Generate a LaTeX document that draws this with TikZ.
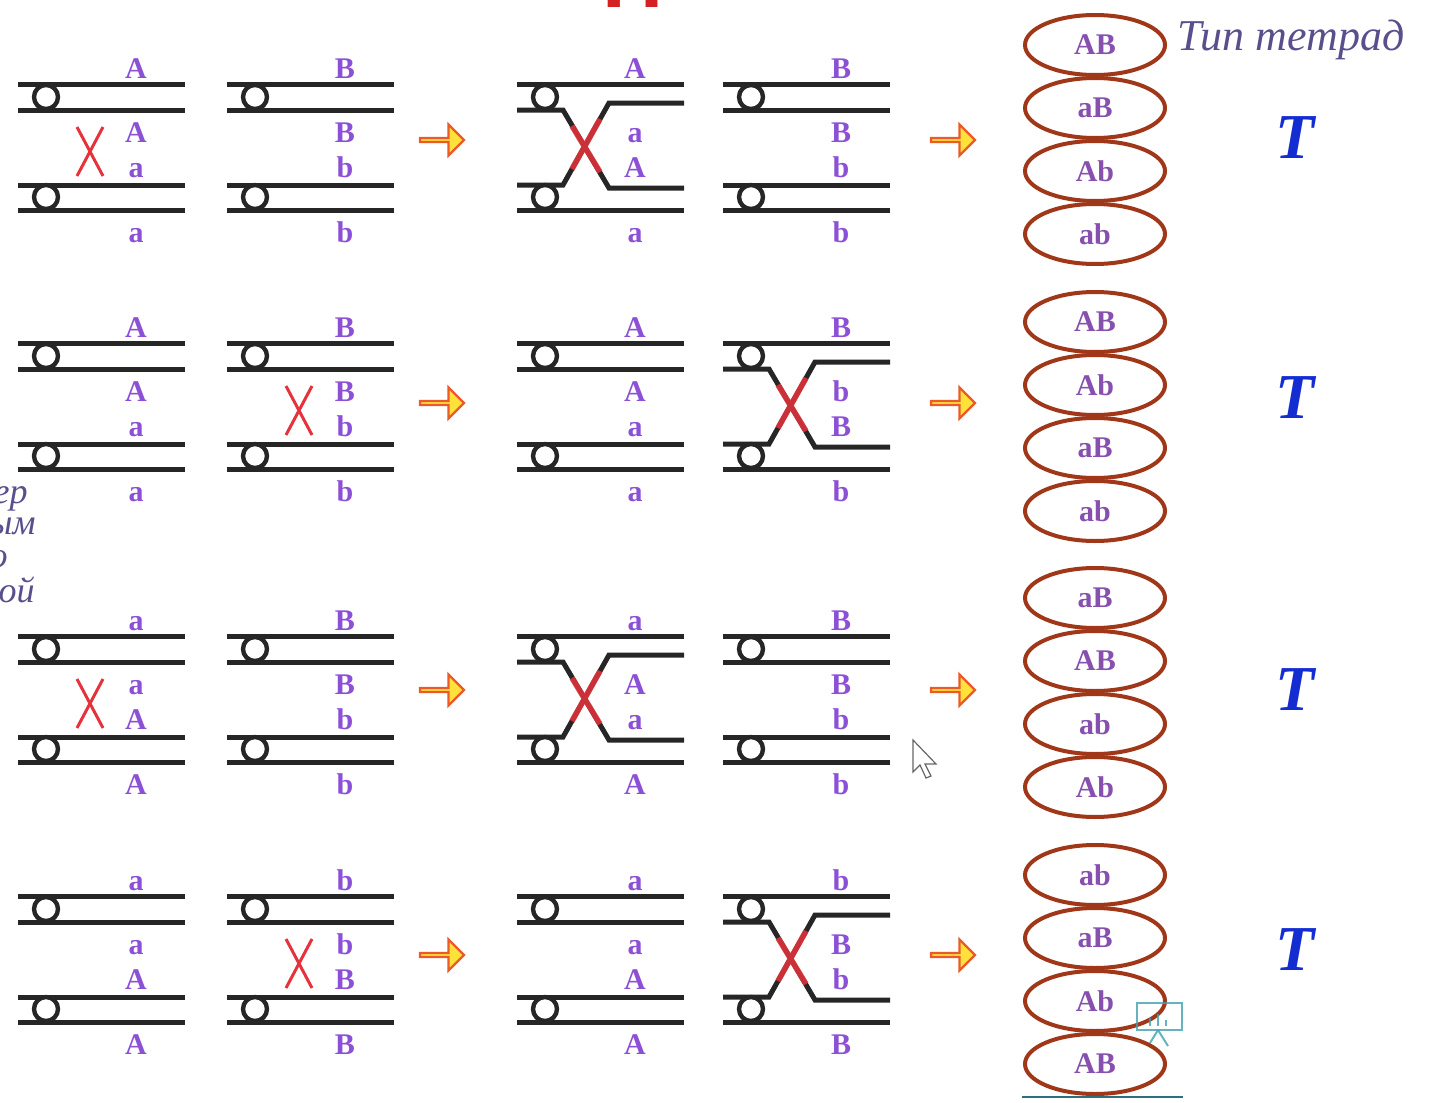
\documentclass[tikz,border=0pt]{standalone}
\usepackage{fontspec}
\setmainfont{Liberation Serif}
\newfontfamily\headfont{Liberation Sans}
\usetikzlibrary{shapes.geometric,shapes.arrows,positioning}

\definecolor{genecol}{RGB}{140,80,215}
\definecolor{tetcol}{RGB}{135,80,175}
\definecolor{ringcol}{RGB}{160,55,25}
\definecolor{xred}{RGB}{230,50,60}
\definecolor{typecol}{RGB}{90,78,140}
\definecolor{tblue}{RGB}{20,45,210}
\definecolor{arrowline}{RGB}{235,90,40}
\definecolor{arrowfill}{RGB}{255,225,60}
\definecolor{titlered}{RGB}{212,32,32}
\definecolor{icontint}{RGB}{64,160,176}

\tikzset{
  chrom/.style     = {line width=2.5pt, black!85},
  centro/.style    = {line width=2.2pt, black!85, fill=white},
  gene/.style      = {text=genecol, font=\fontsize{15}{17}\selectfont\bfseries, anchor=base, inner sep=0pt},
  crossmark/.style = {xred, line width=1.5pt},
  chiasm/.style    = {xred, line width=2.8pt, opacity=0.85},
  fatarrow/.style  = {single arrow, draw=arrowline, fill=arrowfill, line width=1.2pt,
                      minimum height=22pt, minimum width=15.5pt, single arrow head extend=4pt, inner sep=0pt},
  tetrad/.style    = {ellipse, draw=ringcol, line width=2pt, fill=white, minimum width=70pt,
                      minimum height=30pt, inner sep=0pt, text=tetcol, font=\fontsize{15}{17}\selectfont\bfseries},
  ttype/.style     = {text=tblue, font=\fontsize{32}{34}\selectfont\bfseries\itshape},
  typelabel/.style = {text=typecol, inner sep=0pt, font=\fontsize{22}{24}\selectfont\itshape},
  fragment/.style  = {typelabel, anchor=base east, font=\fontsize{18}{20}\selectfont\itshape},
  cursor/.style    = {draw=black!60, fill=white, line width=0.6pt},
  iconline/.style  = {draw=icontint, line width=1pt, opacity=0.8},
  footrule/.style  = {draw=icontint!70!black, line width=0.8pt},
}

% pair of homologues, no exchange
\newcommand{\homolog}[6]{%
  \begin{scope}[shift={(#2)}]
    \draw[chrom] (0,84) -- (167,84);
    \draw[chrom] (0,110) -- (167,110);
    \draw[chrom] (0,185) -- (167,185);
    \draw[chrom] (0,210) -- (167,210);
    \draw[centro] (28,97) circle (6pt);
    \draw[centro] (28,197) circle (6pt);
    \node[gene] (#1-1) at (118,78)  {#3};
    \node[gene] (#1-2) at (118,142) {#4};
    \node[gene] (#1-3) at (118,177) {#5};
    \node[gene] (#1-4) at (118,242) {#6};
  \end{scope}}

% pair of homologues after crossing over
\newcommand{\chiasma}[6]{%
  \begin{scope}[shift={(#2)}]
    \draw[chrom] (0,84) -- (167,84);
    \draw[chrom] (0,110) -- (46,110) -- (92,188) -- (167,188);
    \draw[chrom] (0,185) -- (46,185) -- (92,103) -- (167,103);
    \draw[chrom] (0,210) -- (167,210);
    \draw[chiasm] (55,126) -- (83,172) (55,169) -- (83,119);
    \draw[centro] (28,97) circle (6pt);
    \draw[centro] (28,197) circle (6pt);
    \node[gene] (#1-1) at (118,78)  {#3};
    \node[gene] (#1-2) at (118,142) {#4};
    \node[gene] (#1-3) at (118,177) {#5};
    \node[gene] (#1-4) at (118,242) {#6};
  \end{scope}}

\newcommand{\xmark}[1]{%
  \begin{scope}[shift={(#1)}]
    \draw[crossmark] (59,127) -- (85,176) (85,127) -- (59,176);
  \end{scope}}

\begin{document}
\begin{tikzpicture}[x=0.5pt, y=-0.5pt, node distance=31.5pt]
\useasboundingbox (0,0) rectangle (1432,1103);

\node[anchor=base west, inner sep=0pt, text=titlered, font=\headfont\bfseries\fontsize{42.5}{44}\selectfont] (heading) at (602,8) {П};

\homolog{r1g1}{18,0}{A}{A}{a}{a}
\xmark{18,0}
\homolog{r1g2}{227,0}{B}{B}{b}{b}
\chiasma{r1g3}{517,0}{A}{a}{A}{a}
\homolog{r1g4}{723,0}{B}{B}{b}{b}
\node[fatarrow] (r1a1) at (441,140) {};
\node[fatarrow] (r1a2) at (952,140) {};

\homolog{r2g1}{18,259}{A}{A}{a}{a}
\homolog{r2g2}{227,259}{B}{B}{b}{b}
\xmark{227,259}
\homolog{r2g3}{517,259}{A}{A}{a}{a}
\chiasma{r2g4}{723,259}{B}{b}{B}{b}
\node[fatarrow] (r2a1) at (441,403) {};
\node[fatarrow] (r2a2) at (952,403) {};

\homolog{r3g1}{18,552}{a}{a}{A}{A}
\xmark{18,552}
\homolog{r3g2}{227,552}{B}{B}{b}{b}
\chiasma{r3g3}{517,552}{a}{A}{a}{A}
\homolog{r3g4}{723,552}{B}{B}{b}{b}
\node[fatarrow] (r3a1) at (441,690) {};
\node[fatarrow] (r3a2) at (952,690) {};

\homolog{r4g1}{18,812}{a}{a}{A}{A}
\homolog{r4g2}{227,812}{b}{b}{B}{B}
\xmark{227,812}
\homolog{r4g3}{517,812}{a}{a}{A}{A}
\chiasma{r4g4}{723,812}{b}{B}{b}{B}
\node[fatarrow] (r4a1) at (441,955) {};
\node[fatarrow] (r4a2) at (952,955) {};

\node[tetrad]                (r1t1) at (1095,45) {AB};
\node[tetrad, below of=r1t1] (r1t2) {aB};
\node[tetrad, below of=r1t2] (r1t3) {Ab};
\node[tetrad, below of=r1t3] (r1t4) {ab};

\node[tetrad]                (r2t1) at (1095,322) {AB};
\node[tetrad, below of=r2t1] (r2t2) {Ab};
\node[tetrad, below of=r2t2] (r2t3) {aB};
\node[tetrad, below of=r2t3] (r2t4) {ab};

\node[tetrad]                (r3t1) at (1095,598) {aB};
\node[tetrad, below of=r3t1] (r3t2) {AB};
\node[tetrad, below of=r3t2] (r3t3) {ab};
\node[tetrad, below of=r3t3] (r3t4) {Ab};

\node[tetrad]                (r4t1) at (1095,875) {ab};
\node[tetrad, below of=r4t1] (r4t2) {aB};
\node[tetrad, below of=r4t2] (r4t3) {Ab};
\node[tetrad, below of=r4t3] (r4t4) {AB};

\node[typelabel, anchor=base west] (typehead) at (1177,50) {Тип тетрад};
\node[ttype] (r1T) at (1295,138) {T};
\node[ttype] (r2T) at (1295,398) {T};
\node[ttype] (r3T) at (1295,690) {T};
\node[ttype] (r4T) at (1295,950) {T};

\node[fragment] (frag1) at (28,503) {ер};
\node[fragment] (frag2) at (36,534) {ым};
\node[fragment] (frag3) at (8,567) {о};
\node[fragment] (frag4) at (35,602) {ой};

\draw[cursor] (913,740) -- (913,772) -- (920,765) -- (926,778) -- (931,776) -- (925,764) -- (936,764) -- cycle;

\draw[iconline] (1137,1003) rectangle (1182,1030);
\draw[iconline] (1150,1018) -- (1150,1026) (1158,1014) -- (1158,1026) (1166,1020) -- (1166,1026);
\draw[iconline] (1158,1030) -- (1150,1043) (1158,1030) -- (1168,1046);
\draw[footrule] (1022,1097) -- (1183,1097);
\end{tikzpicture}
\end{document}
